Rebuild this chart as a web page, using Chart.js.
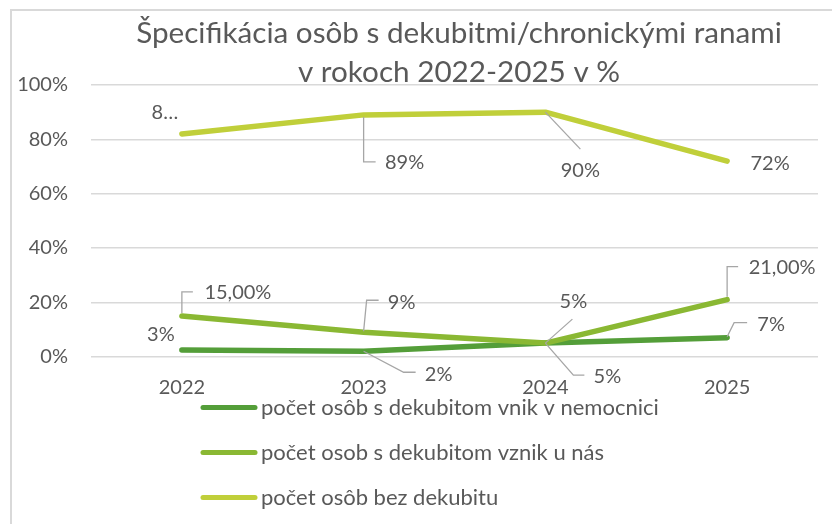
<!DOCTYPE html>
<html>
<head>
<meta charset="utf-8">
<title>Špecifikácia osôb s dekubitmi</title>
<script src="https://cdn.jsdelivr.net/npm/chart.js@4.4.0/dist/chart.umd.min.js"></script>
<style>
  html, body { margin: 0; padding: 0; background: #fff; overflow: hidden; }
  #box { position: relative; width: 832px; height: 524px; }
</style>
</head>
<body>
<div id="box"><canvas id="lineChart" width="832" height="524"></canvas></div>
<script>
// data (values in %)
const years = ['2022', '2023', '2024', '2025'];
const seriesNames = [
  'počet osôb s dekubitom vnik v nemocnici',
  'počet osob s dekubitom vznik u nás',
  'počet osôb bez dekubitu'
];
const hospital = [2.5, 2, 5, 7];
const ours = [15, 9, 5, 21];
const noUlcer = [82, 89, 90, 72];
// data labels as printed in the chart
const hospitalLabels = ['3%', '2%', '5%', '7%'];
const oursLabels = ['15,00%', '9%', '5%', '21,00%'];
const noUlcerLabels = ['8…', '89%', '90%', '72%'];
const yTicks = [0, 20, 40, 60, 80, 100];
const titleLines = ['Špecifikácia osôb s dekubitmi/chronickými ranami', 'v rokoch 2022-2025 v %'];

const colors = ['#549E39', '#8AB833', '#C0CF3A'];
const textColor = '#595959';
const font = 'Lato, "Open Sans", sans-serif';

// where each data label sits relative to its point: [dx, dy, leader polyline]
const placement = [
  [[-21, -15, null], [75, 23, [[0, 0], [40, 21], [52, 21]]], [62, 33, [[0, 0], [28, 32], [39, 32]]], [44, -13, [[0, -1], [7, -15], [20, -15]]]],
  [[56, -23, [[0, -3], [0, -24], [11, -24]]], [38, -30, [[0, -1], [3, -32], [15, -32]]], [28, -42, [[0, 0], [27, -24]]], [55, -32, [[0, -3], [0, -33], [11, -33]]]],
  [[-17, -21, null], [41, 48, [[0, 2], [0, 47], [12, 47]]], [35, 58, [[0, 0], [35, 37]]], [43, 2, null]]
];
const labelTexts = [hospitalLabels, oursLabels, noUlcerLabels];

const decor = {
  id: 'decor',
  beforeDraw(chart) {
    const ctx = chart.ctx;
    ctx.save();
    ctx.fillStyle = '#fff';
    ctx.fillRect(0, 0, chart.width, chart.height);
    ctx.fillStyle = '#d9d9d9';
    ctx.fillRect(10, 9, chart.width - 10, 2);
    ctx.fillRect(10, 9, 2, chart.height - 9);
    ctx.restore();
  },
  afterDraw(chart) {
    const ctx = chart.ctx;
    ctx.save();
    // title
    ctx.fillStyle = textColor;
    ctx.textAlign = 'center';
    ctx.textBaseline = 'alphabetic';
    ctx.font = '28px ' + font;
    const w = ctx.measureText(titleLines[0]).width;
    const size = 28 * 646 / w;
    ctx.font = size.toFixed(2) + 'px ' + font;
    ctx.fillText(titleLines[0], 459, 43);
    ctx.fillText(titleLines[1], 459, 81.5);

    // data labels with leader lines
    ctx.font = '20px ' + font;
    ctx.textBaseline = 'middle';
    chart.data.datasets.forEach((ds, i) => {
      const meta = chart.getDatasetMeta(i);
      meta.data.forEach((pt, j) => {
        const [dx, dy, leader] = placement[i][j];
        if (leader) {
          ctx.strokeStyle = '#a6a6a6';
          ctx.lineWidth = 1.3;
          ctx.beginPath();
          leader.forEach(([lx, ly], k) => {
            if (k === 0) ctx.moveTo(pt.x + lx, pt.y + ly);
            else ctx.lineTo(pt.x + lx, pt.y + ly);
          });
          ctx.stroke();
        }
        ctx.fillStyle = textColor;
        ctx.textAlign = 'center';
        ctx.fillText(labelTexts[i][j], pt.x + dx, pt.y + dy);
      });
    });

    // legend, one entry per row
    ctx.font = '22px ' + font;
    chart.data.datasets.forEach((ds, i) => {
      const y = 407.5 + i * 45;
      ctx.strokeStyle = ds.borderColor;
      ctx.lineWidth = 5;
      ctx.lineCap = 'round';
      ctx.beginPath();
      ctx.moveTo(203, y);
      ctx.lineTo(255, y);
      ctx.stroke();
      ctx.fillStyle = textColor;
      ctx.textAlign = 'left';
      ctx.fillText(ds.label, 261, y);
    });
    ctx.restore();
  }
};

const series = [hospital, ours, noUlcer];
const ctx = document.getElementById('lineChart');
const lineChart = new Chart(ctx, {
  type: 'line',
  data: {
    labels: years,
    datasets: series.map((values, i) => ({
      label: seriesNames[i],
      data: values,
      borderColor: colors[i],
      backgroundColor: colors[i],
      borderWidth: 5.5,
      borderCapStyle: 'round',
      borderJoinStyle: 'round',
      pointRadius: 0,
      pointHoverRadius: 0,
      tension: 0,
      fill: false,
      order: 3 - i
    }))
  },
  options: {
    responsive: false,
    animation: false,
    events: [],
    layout: { padding: { left: 0, right: 14, top: 85, bottom: 127.3 } },
    plugins: {
      legend: { display: false },
      title: { display: false },
      tooltip: { enabled: false }
    },
    scales: {
      x: {
        offset: true,
        grid: { display: false, drawTicks: false },
        border: { display: false },
        ticks: { color: textColor, font: { family: font, size: 20 }, padding: 19 },
        afterFit(scale) { scale.height = 40; }
      },
      y: {
        min: 0,
        max: 100,
        afterBuildTicks(scale) { scale.ticks = yTicks.map(v => ({ value: v })); },
        grid: { color: '#d9d9d9', lineWidth: 1.5, drawTicks: false },
        border: { display: false },
        ticks: { color: textColor, font: { family: font, size: 20 }, padding: 23, callback: v => v + '%' },
        afterFit(scale) { scale.width = 91; }
      }
    }
  },
  plugins: [decor]
});
</script>
</body>
</html>
